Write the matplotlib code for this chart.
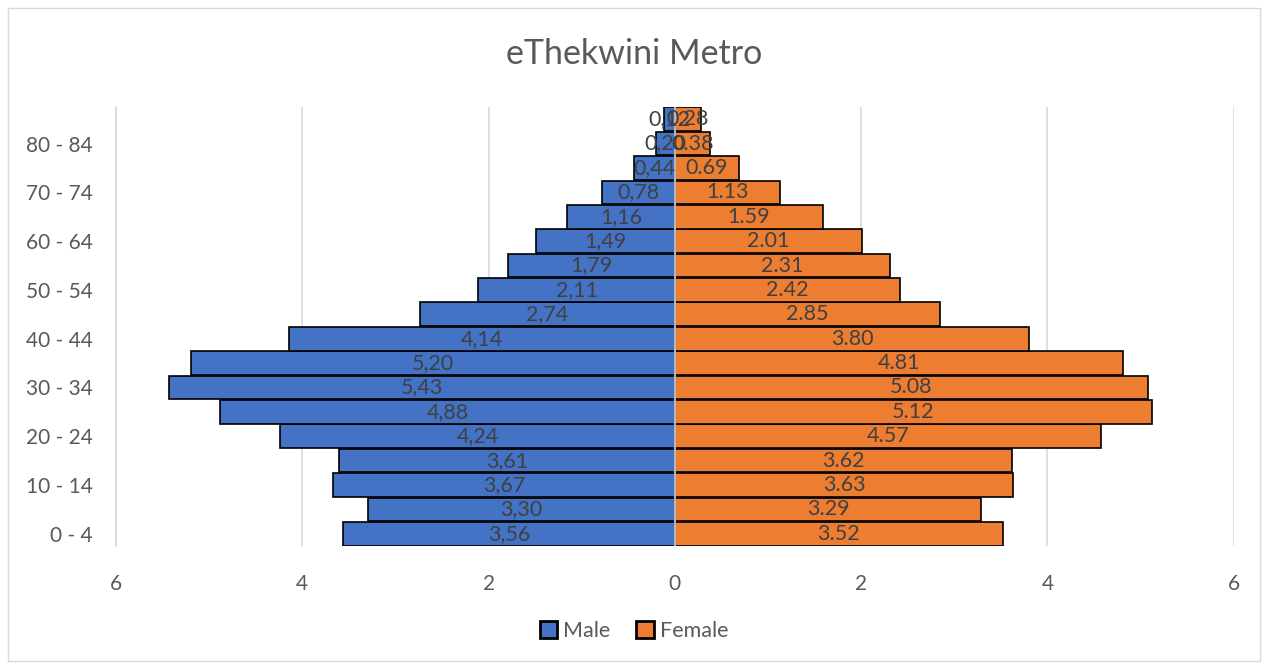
import numpy as np
import matplotlib.pyplot as plt
from matplotlib.patches import Rectangle

# grupos de edad (de abajo hacia arriba)
grupos = ["0 - 4", "5 - 9", "10 - 14", "15 - 19", "20 - 24", "25 - 29", "30 - 34",
          "35 - 39", "40 - 44", "45 - 49", "50 - 54", "55 - 59", "60 - 64",
          "65 - 69", "70 - 74", "75 - 79", "80 - 84", "85+"]
hombres = [3.56, 3.30, 3.67, 3.61, 4.24, 4.88, 5.43, 5.20, 4.14, 2.74,
           2.11, 1.79, 1.49, 1.16, 0.78, 0.44, 0.20, 0.12]
mujeres = [3.52, 3.29, 3.63, 3.62, 4.57, 5.12, 5.08, 4.81, 3.80, 2.85,
           2.42, 2.31, 2.01, 1.59, 1.13, 0.69, 0.38, 0.28]
ticks_x = [-6, -4, -2, 0, 2, 4, 6]

azul = "#4472C4"
naranja = "#ED7D31"
gris = "#595959"

plt.rcParams['font.family'] = ['Lato', 'DejaVu Sans']

fig = plt.figure(figsize=(12.68, 6.64), dpi=100)
ax = fig.add_axes([0.0915, 0.1777, 0.8815, 0.6612])

y = np.arange(len(grupos))
ax.barh(y, -np.array(hombres), height=0.97, color=azul, edgecolor="black",
        linewidth=1.2, label="Male", zorder=2)
ax.barh(y, mujeres, height=0.97, color=naranja, edgecolor="black",
        linewidth=1.2, label="Female", zorder=2)

# etiquetas de datos centradas en cada barra (se solapan como en el original)
for i in range(len(grupos)):
    ax.text(-hombres[i] / 2, y[i], f"{hombres[i]:.2f}".replace(".", ","),
            ha="center", va="center", fontsize=15.5, color="#404040", zorder=4)
    ax.text(mujeres[i] / 2, y[i], f"{mujeres[i]:.2f}",
            ha="center", va="center", fontsize=15.5, color="#404040", zorder=4)

ax.axvline(0, color="#D9D9D9", linewidth=1.2, zorder=3)

ax.set_xlim(-6, 6)
ax.set_ylim(-0.5, len(grupos) - 0.5)
ax.set_xticks(ticks_x)
ax.set_xticklabels([str(abs(t)) for t in ticks_x])
ax.set_yticks(y[::2])
ax.set_yticklabels(grupos[::2])
ax.tick_params(axis="both", length=0, labelsize=15, labelcolor=gris)
ax.tick_params(axis="x", pad=20)
ax.tick_params(axis="y", pad=17)
ax.grid(axis="x", color="#D9D9D9", linewidth=1.2, zorder=0)
ax.set_axisbelow(True)
for s in ["top", "right", "bottom"]:
    ax.spines[s].set_visible(False)
ax.spines["left"].set_color("#D9D9D9")
ax.spines["left"].set_linewidth(1.2)

fig.text(0.5, 0.919, "eThekwini Metro", ha="center", va="center",
         fontsize=24.5, color=gris)

leg = fig.legend(loc="center", bbox_to_anchor=(0.5, 0.05), ncol=2, frameon=False,
                 fontsize=15.5, handlelength=0.8, handleheight=0.8,
                 handletextpad=0.3, columnspacing=1.2)
for t in leg.get_texts():
    t.set_color(gris)
for h in leg.legend_handles:
    h.set_linewidth(2)

# borde del gráfico
fig.patches.append(Rectangle((0.006, 0.004), 0.988, 0.984, transform=fig.transFigure,
                             fill=False, edgecolor="#D9D9D9", linewidth=1))

fig.savefig("out.png", dpi=100)
